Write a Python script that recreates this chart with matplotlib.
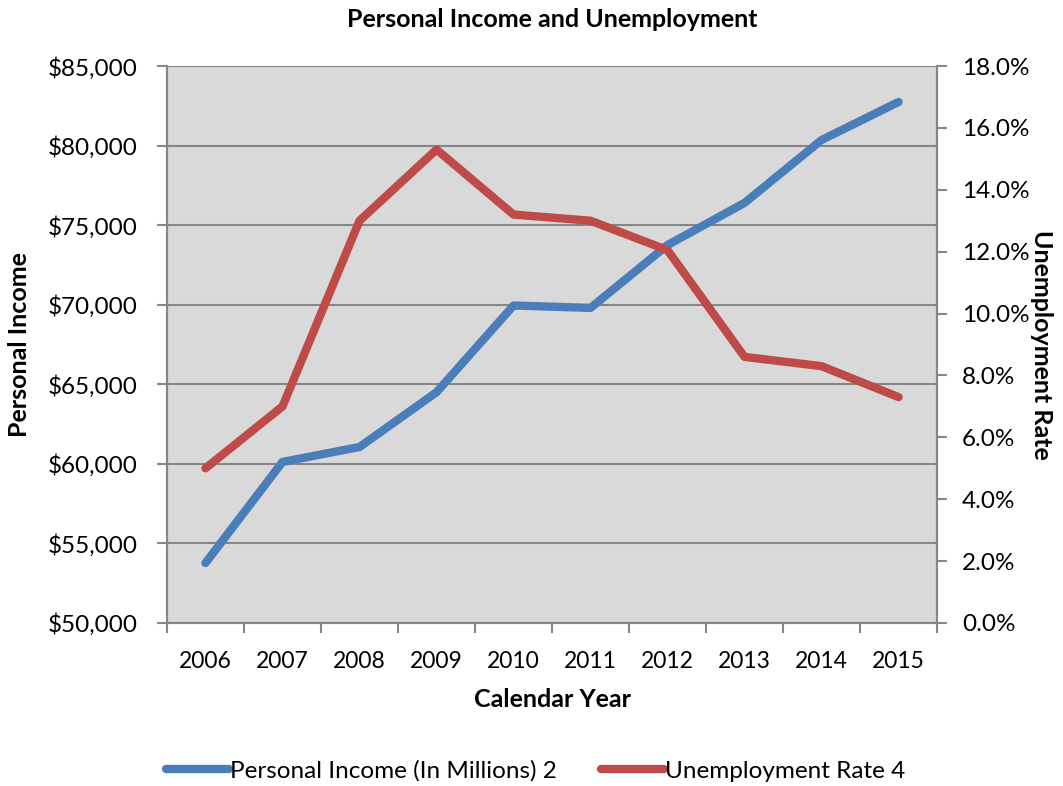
import matplotlib.pyplot as plt
from matplotlib.ticker import FuncFormatter, MultipleLocator
from matplotlib.lines import Line2D

# yearly figures
years = ['2006', '2007', '2008', '2009', '2010', '2011', '2012', '2013', '2014', '2015']
income = [53770, 60120, 61060, 64500, 69950, 69800, 73750, 76400, 80350, 82740]
unemployment = [5.0, 7.0, 13.0, 15.3, 13.2, 13.0, 12.05, 8.6, 8.3, 7.3]

blue = '#4A7EBB'
red = '#BE4B48'
grid_col = '#868686'

plt.rcParams['font.family'] = ['Lato', 'DejaVu Sans']

fig = plt.figure(figsize=(10.63, 7.86), dpi=100)
ax = fig.add_axes([0.1571, 0.2074, 0.7244, 0.7086])
ax.set_facecolor('#D9D9D9')

x = list(range(len(years)))
ax.plot(x, income, color=blue, lw=6, solid_capstyle='round', solid_joinstyle='round', zorder=3)
ax.set_xlim(-0.5, len(years) - 0.5)
ax.set_ylim(50000, 85000)
ax.yaxis.set_major_locator(MultipleLocator(5000))
ax.yaxis.set_major_formatter(FuncFormatter(lambda v, p: '${:,.0f}'.format(v)))
ax.grid(axis='y', color=grid_col, lw=1.5, zorder=1)
ax.set_axisbelow(True)

# year labels centred, ticks at the boundaries
ax.set_xticks(x)
ax.set_xticklabels(years)
ax.set_xticks([i - 0.5 for i in range(len(years) + 1)], minor=True)
ax.tick_params(axis='x', which='major', length=0, pad=20, labelsize=16.5)
ax.tick_params(axis='x', which='minor', length=7, color=grid_col, width=1.5)
ax.tick_params(axis='y', length=7, color=grid_col, width=1.5, labelsize=17.5, pad=14)

ax2 = ax.twinx()
ax2.plot(x, unemployment, color=red, lw=6, solid_capstyle='round', solid_joinstyle='round', zorder=3)
ax2.set_ylim(0, 18)
ax2.yaxis.set_major_locator(MultipleLocator(2))
ax2.yaxis.set_major_formatter(FuncFormatter(lambda v, p: '{:.1f}%'.format(v)))
ax2.tick_params(axis='y', length=7, color=grid_col, width=1.5, labelsize=17.5, pad=11)

for a in (ax, ax2):
    for side in ('top', 'right', 'left', 'bottom'):
        a.spines[side].set_color(grid_col)
        a.spines[side].set_linewidth(1.5)
ax.spines['top'].set_visible(False)
ax2.spines['top'].set_visible(False)

ax.set_title('Personal Income and Unemployment', fontsize=18, fontweight='bold', pad=28)
ax.set_xlabel('Calendar Year', fontsize=18, fontweight='bold', labelpad=12)
ax.set_ylabel('Personal Income', fontsize=18, fontweight='bold', labelpad=12)
ax2.set_ylabel('Unemployment Rate', fontsize=18, fontweight='bold', rotation=270, labelpad=17)

handles = [Line2D([], [], color=blue, lw=6, solid_capstyle='round'),
           Line2D([], [], color=red, lw=6, solid_capstyle='round')]
fig.legend(handles, ['Personal Income (In Millions) 2', 'Unemployment Rate 4'],
           loc='center', bbox_to_anchor=(0.504, 0.019), ncol=2, frameon=False,
           fontsize=17.5, handlelength=2.6, handletextpad=0.05, columnspacing=1.8)

fig.savefig('out.png', dpi=100)
